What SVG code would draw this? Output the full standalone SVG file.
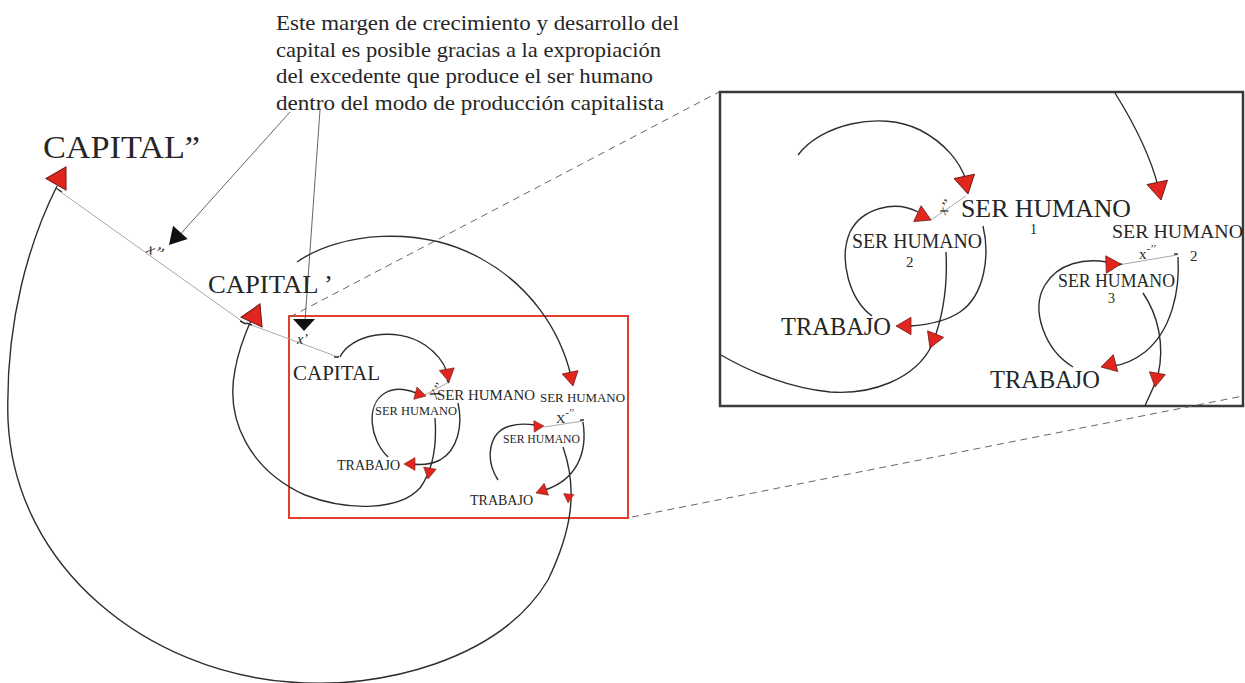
<svg xmlns="http://www.w3.org/2000/svg" xmlns:xlink="http://www.w3.org/1999/xlink" width="1245" height="683" viewBox="0 0 1245 683" font-family="'Liberation Serif', 'DejaVu Serif', serif">
<style>
text{font-family:'Liberation Serif','DejaVu Serif',serif;fill:#262626}
.it{font-style:italic}
.c{fill:none;stroke:#2e2e2e;stroke-width:1.4}
.g{fill:none;stroke:#a8a8a8;stroke-width:1}
.k{fill:none;stroke:#555;stroke-width:0.9}
.tk{fill:none;stroke:#333;stroke-width:1.4}
.d{fill:none;stroke:#666;stroke-width:1;stroke-dasharray:7 5}
.ah{fill:#e0261f;stroke:#6e1a14;stroke-width:0.05}
.bh{fill:#111}
</style>
<defs>
<path id="tri" d="M0,0 L-1,-0.58 L-1,0.58 Z"/>
</defs>
<rect width="1245" height="683" fill="#fff"/>

<g id="annotation">
<text x="276" y="30" font-size="22" textLength="403" lengthAdjust="spacingAndGlyphs">Este margen de crecimiento y desarrollo del</text>
<text x="276" y="56.5" font-size="22" textLength="385" lengthAdjust="spacingAndGlyphs">capital es posible gracias a la expropiación</text>
<text x="276" y="83" font-size="22" textLength="377" lengthAdjust="spacingAndGlyphs">del excedente que produce el ser humano</text>
<text x="276" y="109.5" font-size="22" textLength="388" lengthAdjust="spacingAndGlyphs">dentro del modo de producción capitalista</text>
</g>

<g id="zoom-frames">
<rect x="289" y="316" width="339" height="202" fill="none" stroke="#e2402f" stroke-width="2"/>
<rect x="720" y="92" width="523" height="314" fill="none" stroke="#3a3a3a" stroke-width="2.5"/>
</g>

<g id="connectors">
<line class="d" x1="290" y1="317" x2="719" y2="92"/>
<line class="d" x1="632" y1="517" x2="1243" y2="396"/>
<line class="k" x1="290" y1="112" x2="176" y2="239"/>
<line class="k" x1="320" y1="110" x2="305" y2="321"/>
<path class="c" d="M563,447 C578,490 572,530 548,580 C500,660 380,690 290,682 C150,672 15,570 8,420 C5,320 30,240 57,186"/>
<path class="c" d="M435,418 C437,445 433,470 420,488 C400,510 350,512 305,495 C250,470 225,420 235,370 C238,352 244,336 252,318"/>
<path class="c" d="M297,262 C340,232 420,225 480,258 C530,285 560,330 571,376"/>
<path class="c" d="M340,357 C350,335 395,325 425,345 C438,354 444,363 447,372"/>
<path class="c" d="M388,457 C370,440 365,405 385,393 C395,387 406,389 416,393"/>
<path class="c" d="M458,403 C463,425 458,450 440,460 C430,465 420,465 412,464"/>
<path class="c" d="M498,480 C485,460 488,432 510,426 C520,423 528,424 535,425"/>
<path class="c" d="M583,422 C588,455 575,480 545,490"/>
<line class="g" x1="58" y1="190" x2="243" y2="322"/>
<line class="g" x1="246" y1="323" x2="338" y2="357"/>
<line class="g" x1="449" y1="382" x2="421" y2="397"/>
<line class="g" x1="583" y1="421" x2="544" y2="427"/>
<path class="tk" d="M56,188 l6,4 M240,321 l6,3 M246,323 l6,2 M334,357 l5,0 M580,420 l4,0 M449,383 l-2,-3"/>
<path class="c" d="M798,155 C820,125 880,110 920,130 C945,143 960,162 966,180"/>
<path class="c" d="M872,316 C850,300 838,260 850,232 C862,208 895,200 918,212"/>
<path class="c" d="M983,226 C990,255 985,295 960,312 C945,322 925,325 910,326"/>
<path class="c" d="M946,252 C948,290 942,320 932,345 C915,380 870,395 830,392 C790,388 750,372 721,355"/>
<path class="c" d="M1115,93 C1135,125 1150,155 1158,186"/>
<path class="c" d="M1073,367 C1045,350 1030,310 1045,285 C1058,263 1085,258 1107,262"/>
<path class="c" d="M1178,257 C1180,290 1172,330 1145,352 C1132,362 1122,365 1113,366"/>
<path class="c" d="M1143,293 C1158,315 1165,345 1158,375 C1153,390 1148,398 1145,406"/>
<line class="g" x1="966" y1="196" x2="931" y2="220"/>
<line class="g" x1="1177" y1="255" x2="1118" y2="265"/>
<path class="tk" d="M1174,254 l4,0 M1118,265 l4,-1"/>
</g>

<g id="arrowheads">
<use xlink:href="#tri" class="ah" transform="translate(66,167) rotate(-60) scale(20)"/>
<use xlink:href="#tri" class="ah" transform="translate(260,304) rotate(-65) scale(20)"/>
<use xlink:href="#tri" class="ah" transform="translate(573,386) rotate(78) scale(14)"/>
<use xlink:href="#tri" class="ah" transform="translate(449,382) rotate(80) scale(13)"/>
<use xlink:href="#tri" class="ah" transform="translate(426,396) rotate(15) scale(11)"/>
<use xlink:href="#tri" class="ah" transform="translate(404,464) rotate(180) scale(11)"/>
<use xlink:href="#tri" class="ah" transform="translate(428,479) rotate(100) scale(11)"/>
<use xlink:href="#tri" class="ah" transform="translate(544,426) rotate(-2) scale(10)"/>
<use xlink:href="#tri" class="ah" transform="translate(536,493) rotate(160) scale(11)"/>
<use xlink:href="#tri" class="ah" transform="translate(568,503) rotate(95) scale(9)"/>
<use xlink:href="#tri" class="ah" transform="translate(968,194) rotate(78) scale(18)"/>
<use xlink:href="#tri" class="ah" transform="translate(931,220) rotate(25) scale(15)"/>
<use xlink:href="#tri" class="ah" transform="translate(896,326) rotate(180) scale(15)"/>
<use xlink:href="#tri" class="ah" transform="translate(930,348) rotate(112) scale(15)"/>
<use xlink:href="#tri" class="ah" transform="translate(1161,200) rotate(78) scale(18)"/>
<use xlink:href="#tri" class="ah" transform="translate(1121,264) rotate(-2) scale(15)"/>
<use xlink:href="#tri" class="ah" transform="translate(1101,367) rotate(165) scale(15)"/>
<use xlink:href="#tri" class="ah" transform="translate(1155,387) rotate(100) scale(14)"/>
<use xlink:href="#tri" class="bh" transform="translate(169,245) rotate(132) scale(17)"/>
<polygon class="bh" points="293,319 315,319 304,331"/>
</g>

<g id="capital2"><text x="43" y="158" font-size="32" textLength="157" lengthAdjust="spacingAndGlyphs">CAPITAL”</text></g>
<g id="capital1"><text x="208" y="293" font-size="26" textLength="125" lengthAdjust="spacingAndGlyphs">CAPITAL ’</text></g>
<g id="x2-label"><text class="it" x="147" y="257" font-size="16" transform="rotate(25 157 252)">x’’</text></g>
<g id="x1-label"><text class="it" x="297" y="344" font-size="14">x’</text></g>

<g id="capital"><text x="293" y="380" font-size="21" textLength="87" lengthAdjust="spacingAndGlyphs">CAPITAL</text></g>
<g id="ser-humano-1"><text x="437" y="400" font-size="15" textLength="98" lengthAdjust="spacingAndGlyphs">SER HUMANO</text></g>
<g id="ser-humano-2"><text x="375" y="415" font-size="12.5" textLength="82" lengthAdjust="spacingAndGlyphs">SER HUMANO</text></g>
<g id="trabajo-1"><text x="337" y="470" font-size="14" textLength="63" lengthAdjust="spacingAndGlyphs">TRABAJO</text></g>
<g id="ser-humano-2b"><text x="540" y="402" font-size="13.5" textLength="85" lengthAdjust="spacingAndGlyphs">SER HUMANO</text></g>
<g id="ser-humano-3"><text x="503" y="443" font-size="12" textLength="77" lengthAdjust="spacingAndGlyphs">SER HUMANO</text></g>
<g id="trabajo-2"><text x="470" y="505" font-size="14" textLength="63" lengthAdjust="spacingAndGlyphs">TRABAJO</text></g>
<g id="xpp-label"><text x="428" y="398" font-size="13" transform="rotate(-60 434 392)">X’’</text></g>
<g id="xmpp-label"><text x="556" y="423" font-size="13">X<tspan dy="-7" font-size="10">-’’</tspan></text></g>

<g id="inset-ser-humano-1"><text x="961" y="217" font-size="26" textLength="170" lengthAdjust="spacingAndGlyphs">SER HUMANO</text><text x="1030" y="234" font-size="14">1</text></g>
<g id="inset-ser-humano-2"><text x="852" y="248" font-size="20" textLength="130" lengthAdjust="spacingAndGlyphs">SER HUMANO</text><text x="906" y="267" font-size="15">2</text></g>
<g id="inset-trabajo-1"><text x="781" y="335" font-size="25" textLength="110" lengthAdjust="spacingAndGlyphs">TRABAJO</text></g>
<g id="inset-ser-humano-2b"><text x="1112" y="238" font-size="19.5" textLength="131" lengthAdjust="spacingAndGlyphs">SER HUMANO</text><text x="1190" y="261" font-size="15">2</text></g>
<g id="inset-ser-humano-3"><text x="1058" y="287" font-size="18" textLength="117" lengthAdjust="spacingAndGlyphs">SER HUMANO</text><text x="1108" y="303" font-size="14">3</text></g>
<g id="inset-trabajo-2"><text x="990" y="388" font-size="25" textLength="110" lengthAdjust="spacingAndGlyphs">TRABAJO</text></g>
<g id="inset-xpp"><text x="936" y="213" font-size="14" transform="rotate(-55 943 206)">x’’</text></g>
<g id="inset-xmpp"><text x="1139" y="259" font-size="15">x<tspan dy="-7" font-size="11">-’’</tspan></text></g>
</svg>
